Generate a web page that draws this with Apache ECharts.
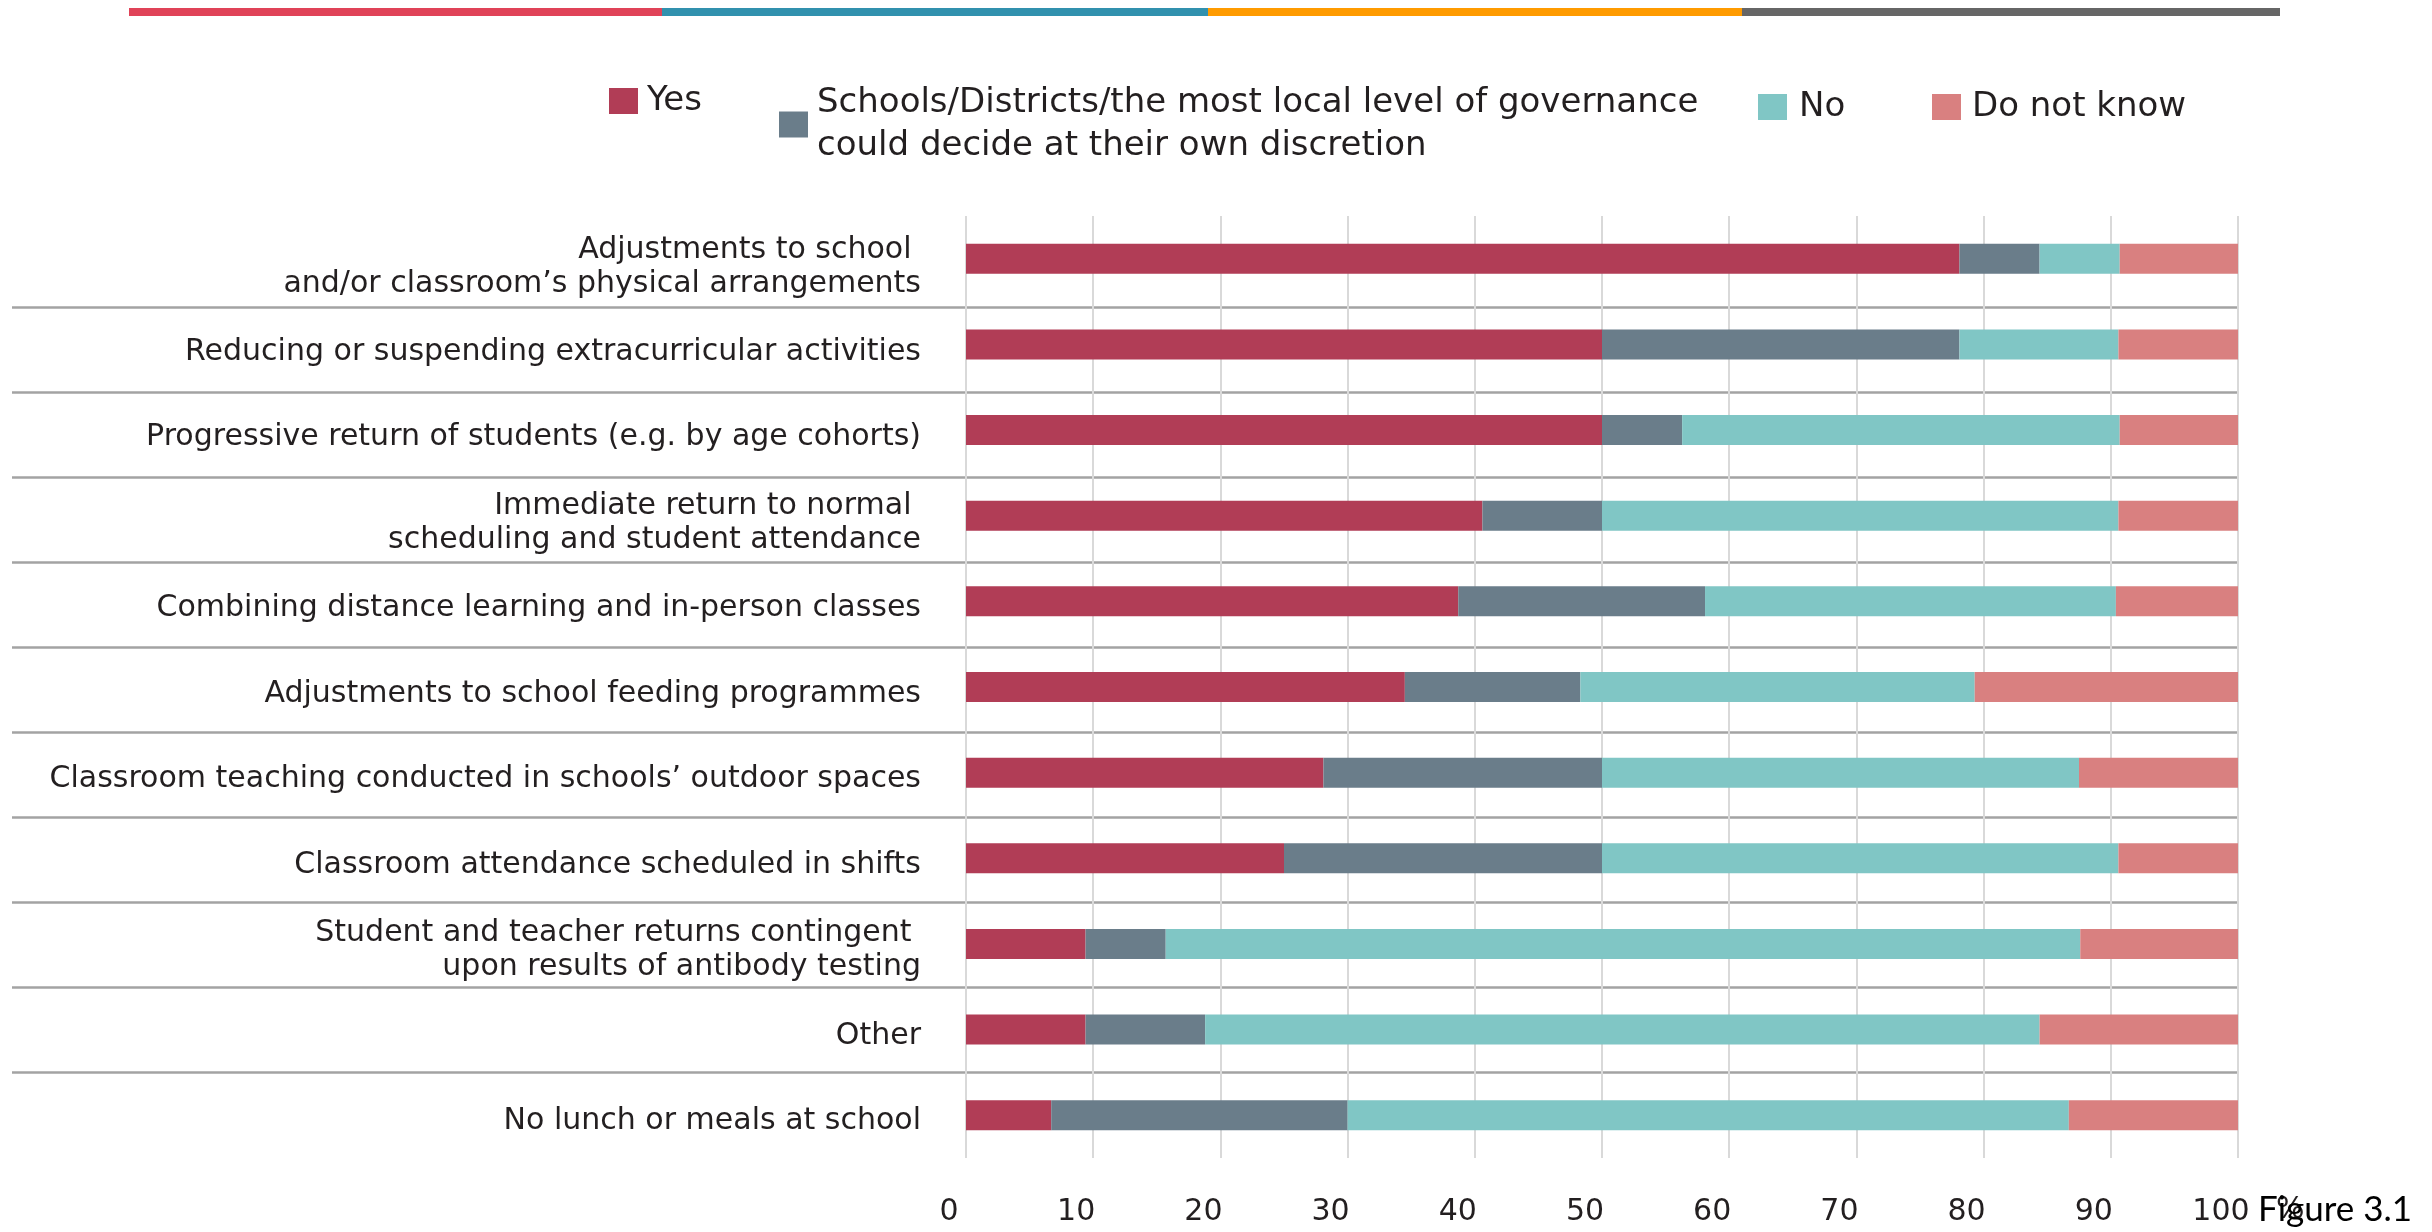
<!DOCTYPE html>
<html>
<head>
<meta charset="utf-8">
<script src="https://cdn.jsdelivr.net/npm/echarts@6/dist/echarts.min.js"></script>
<style>
  html, body { margin: 0; padding: 0; background: #ffffff; }
  #chart { width: 2432px; height: 1232px; }
</style>
</head>
<body>
<div id="chart"></div>
<script>
// ---- Data ----
const categories = [
  "Adjustments to school \nand/or classroom\u2019s physical arrangements",
  "Reducing or suspending extracurricular activities",
  "Progressive return of students (e.g. by age cohorts)",
  "Immediate return to normal \nscheduling and student attendance",
  "Combining distance learning and in-person classes",
  "Adjustments to school feeding programmes",
  "Classroom teaching conducted in schools\u2019 outdoor spaces",
  "Classroom attendance scheduled in shifts",
  "Student and teacher returns contingent \nupon results of antibody testing",
  "Other",
  "No lunch or meals at school"
];
const seriesNames = [
  "Yes",
  "Schools/Districts/the most local level of governance\ncould decide at their own discretion",
  "No",
  "Do not know"
];
const yesValues     = [78.1, 50.0, 50.0, 40.6, 38.7, 34.5, 28.1, 25.0,  9.4,  9.4,  6.7];
const schoolsValues = [ 6.3, 28.1,  6.3,  9.4, 19.4, 13.8, 21.9, 25.0,  6.3,  9.4, 23.3];
const noValues      = [ 6.3, 12.5, 34.4, 40.6, 32.3, 31.0, 37.5, 40.6, 71.9, 65.6, 56.7];
const dnkValues     = [ 9.4,  9.4,  9.4,  9.4,  9.7, 20.7, 12.5,  9.4, 12.5, 15.6, 13.3];
const xTicks = [0, 10, 20, 30, 40, 50, 60, 70, 80, 90, 100];

const colors = ["#b13d56", "#6a7d8a", "#80c6c5", "#d98080"];
const FONT = "DejaVu Sans";
const TEXT = "#231f20";

const chart = echarts.init(document.getElementById('chart'), null, { renderer: 'canvas' });

const seriesData = [yesValues, schoolsValues, noValues, dnkValues];

function legendFor(i, left, top, extraText) {
  return {
    show: true,
    left: left, top: top,
    orient: 'horizontal',
    padding: 0,
    itemWidth: 29, itemHeight: 26,
    icon: 'rect',
    itemGap: 0,
    data: [seriesNames[i]],
    selectedMode: false,
    textStyle: Object.assign({ fontFamily: FONT, fontSize: 34, color: TEXT, padding: [0, 0, 0, 4] }, extraText || {})
  };
}

const option = {
  backgroundColor: '#ffffff',
  animation: false,
  legend: [
    legendFor(0, 609, 84),
    legendFor(1, 779, 60, { lineHeight: 43, padding: [43, 0, 0, 4] }),
    legendFor(2, 1758, 90, { padding: [0, 0, 0, 7] }),
    legendFor(3, 1932, 90, { padding: [0, 0, 0, 6] })
  ],
  grid: [
    { left: 966, width: 1272, top: 216, height: 942, containLabel: false },
    { left: 12, width: 2226, top: 222, height: 935, containLabel: false },
    { left: 966, width: 1272, top: 224, height: 940, containLabel: false }
  ],
  xAxis: [
    {
      gridIndex: 0, type: 'value', min: 0, max: 100, interval: 10,
      axisLine: { show: false }, axisTick: { show: false },
      splitLine: { show: true, lineStyle: { color: '#d9d9d9', width: 2 } },
      axisLabel: {
        fontFamily: FONT, fontSize: 30, color: TEXT, margin: 39,
        padding: [0, 34, 0, 0],
        formatter: function (v) { return xTicks.indexOf(v) >= 0 ? String(v) : ''; }
      }
    },
    { gridIndex: 1, type: 'value', show: false, min: 0, max: 100 },
    { gridIndex: 2, type: 'value', show: false, min: 0, max: 100 }
  ],
  yAxis: [
    {
      gridIndex: 0, type: 'category', data: categories, inverse: true,
      axisLine: { show: false }, axisTick: { show: false },
      splitLine: { show: false },
      axisLabel: { show: false }
    },
    {
      gridIndex: 1, type: 'category', data: categories, inverse: true,
      axisLine: { show: false }, axisTick: { show: false },
      axisLabel: { show: false },
      splitLine: { show: true, showMinLine: false, showMaxLine: false,
        lineStyle: { color: '#a3a3a3', width: 2.5 } }
    },
    {
      gridIndex: 2, type: 'category', data: categories, inverse: true,
      axisLine: { show: false }, axisTick: { show: false },
      splitLine: { show: false },
      axisLabel: {
        fontFamily: FONT, fontSize: 30, color: TEXT, margin: 45,
        lineHeight: 34, align: 'right'
      }
    }
  ],
  series: seriesData.map(function (vals, i) {
    return {
      name: seriesNames[i],
      type: 'bar',
      stack: 'total',
      xAxisIndex: 0, yAxisIndex: 0,
      barWidth: 30,
      itemStyle: { color: colors[i] },
      data: vals,
      z: 3
    };
  }),
  graphic: [
    { type: 'rect', left: 129, top: 8, shape: { width: 533, height: 8 }, style: { fill: '#e04358' }, silent: true },
    { type: 'rect', left: 662, top: 8, shape: { width: 546, height: 8 }, style: { fill: '#3191ae' }, silent: true },
    { type: 'rect', left: 1208, top: 8, shape: { width: 534, height: 8 }, style: { fill: '#ff9b00' }, silent: true },
    { type: 'rect', left: 1742, top: 8, shape: { width: 538, height: 8 }, style: { fill: '#666666' }, silent: true },
    { type: 'text', left: 2276, top: 1195, style: { text: '%', fontFamily: FONT, fontSize: 30, fill: TEXT } },
    { type: 'text', left: 2258, top: 1192, z: 10, style: { text: 'Figure 3.1', fontFamily: 'Lato', fontSize: 35, fill: '#000000' } }
  ]
};

chart.setOption(option);
</script>
</body>
</html>
